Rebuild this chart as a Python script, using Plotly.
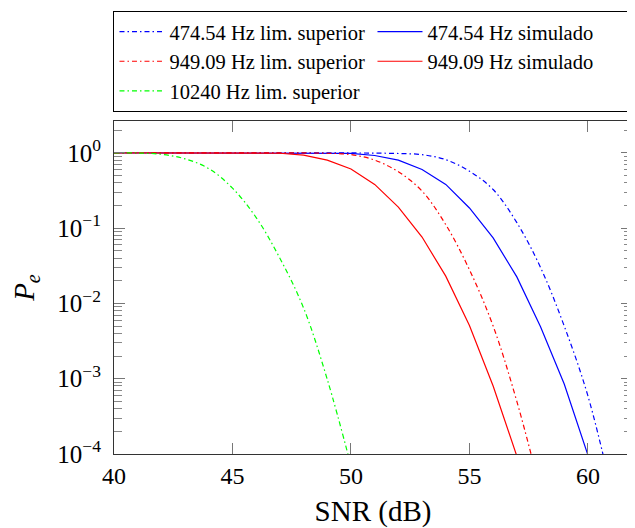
import plotly.graph_objects as go

snr = list(range(40, 62))

# upper bounds (lim. superior)
ub_474 = [1.0, 1.0, 1.0, 1.0, 1.0, 1.0, 1.0, 1.0, 0.999, 0.998, 0.995, 0.99, 0.978,
          0.944, 0.81, 0.57, 0.325, 0.118, 0.030, 0.0050, 5.9e-4, 3.2e-5]
ub_949 = [1.0, 1.0, 1.0, 1.0, 1.0, 1.0, 1.0, 0.998, 0.995, 0.985, 0.945, 0.80, 0.56,
          0.31, 0.111, 0.028, 0.005, 5.0e-4, 3.2e-5]
ub_10240 = [1.0, 0.993, 0.955, 0.83, 0.617, 0.339, 0.138, 0.0398, 0.0087, 0.00098, 7.0e-5]

# simulated
sim_474 = [1.0, 1.0, 1.0, 1.0, 1.0, 1.0, 1.0, 1.0, 0.998, 0.993, 0.98, 0.92, 0.80,
           0.60, 0.38, 0.185, 0.074, 0.0225, 0.0049, 8.5e-4, 1.0e-4, 1.1e-5]
sim_949 = [1.0, 1.0, 1.0, 1.0, 1.0, 1.0, 0.998, 0.985, 0.93, 0.80, 0.61, 0.38, 0.19,
           0.076, 0.023, 0.0051, 8.0e-4, 1.0e-4, 1.1e-5]

names = ["474.54 Hz lim. superior", "474.54 Hz simulado",
         "949.09 Hz lim. superior", "949.09 Hz simulado",
         "10240 Hz lim. superior"]

ytickvals = [1, 0.1, 0.01, 0.001, 0.0001]
yticktext = ["10<sup>0</sup>", "10<sup>−1</sup>", "10<sup>−2</sup>",
             "10<sup>−3</sup>", "10<sup>−4</sup>"]
xtickvals = [40, 45, 50, 55, 60]

DASHDOT = "5px,3px,1.5px,3px"

fig = go.Figure()
fig.add_trace(go.Scatter(x=snr[:len(ub_474)], y=ub_474, name=names[0], mode="lines",
                         line=dict(color="#0000ff", width=1.2, dash=DASHDOT, shape="spline")))
fig.add_trace(go.Scatter(x=snr[:len(sim_474)], y=sim_474, name=names[1], mode="lines",
                         line=dict(color="#0000ff", width=1.2)))
fig.add_trace(go.Scatter(x=snr[:len(ub_949)], y=ub_949, name=names[2], mode="lines",
                         line=dict(color="#ff0000", width=1.2, dash=DASHDOT, shape="spline")))
fig.add_trace(go.Scatter(x=snr[:len(sim_949)], y=sim_949, name=names[3], mode="lines",
                         line=dict(color="#ff0000", width=1.2)))
fig.add_trace(go.Scatter(x=snr[:len(ub_10240)], y=ub_10240, name=names[4], mode="lines",
                         line=dict(color="#00ff00", width=1.2, dash=DASHDOT, shape="spline")))

minor_y = [m * 10.0 ** e for e in range(-4, 1) for m in range(2, 10)]

# the page has an 8 px body margin, so the figure is 8 px smaller on each axis
fig.update_layout(
    width=627, height=520,
    margin=dict(l=106, r=3, t=111, b=74),
    plot_bgcolor="white", paper_bgcolor="white",
    font=dict(family="Liberation Serif", size=24, color="black"),
    showlegend=True,
    legend=dict(
        orientation="h", x=-0.001, xanchor="left", y=1.331, yanchor="top",
        bordercolor="black", borderwidth=1, bgcolor="white",
        font=dict(family="Liberation Serif", size=20.5, color="black"),
        entrywidth=198, entrywidthmode="pixels",
        traceorder="normal", itemwidth=45,
    ),
    xaxis=dict(
        range=[40, 61.86], tickvals=xtickvals, ticktext=[str(v) for v in xtickvals],
        ticks="inside", ticklen=11, tickcolor="#777777", tickwidth=1,
        showline=True, linecolor="#333333", linewidth=1.2, mirror="ticks",
        showgrid=False, zeroline=False, automargin=False,
        tickfont=dict(size=24),
        title=dict(text="SNR (dB)", standoff=18),
    ),
    yaxis=dict(
        type="log", range=[-4, 0.422], tickvals=ytickvals, ticktext=yticktext,
        ticks="inside", ticklen=11, tickcolor="#777777", tickwidth=1,
        showline=True, linecolor="#333333", linewidth=1.2, mirror="ticks",
        showgrid=False, zeroline=False, automargin=False,
        tickfont=dict(size=25), ticklabelstandoff=7,
        minor=dict(tickmode="array", tickvals=minor_y, ticks="inside", ticklen=8,
                   tickcolor="#888888", tickwidth=1, showgrid=False),
        title=dict(text="<i>P</i><sub><i>e</i></sub>", standoff=46),
    ),
)

fig.write_html("out.html")
